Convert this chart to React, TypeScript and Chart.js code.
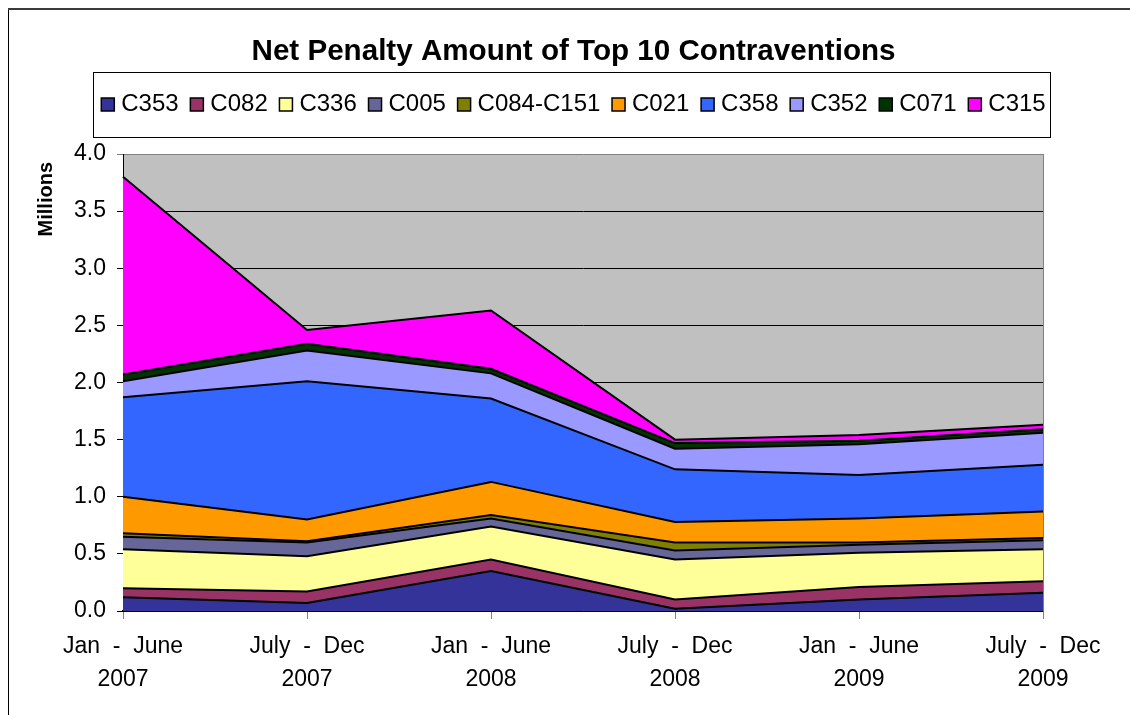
import React, { useEffect, useRef } from 'react';
import { Chart, registerables } from 'chart.js';

Chart.register(...registerables);

const FONT = '"Liberation Sans", Arial, Helvetica, sans-serif';
const TITLE = 'Net Penalty Amount of Top 10 Contraventions';
const Y_TITLE = 'Millions';

// Period labels (two lines each)
const categories: string[][] = [
  ['Jan  -  June', '2007'],
  ['July  -  Dec', '2007'],
  ['Jan  -  June', '2008'],
  ['July  -  Dec', '2008'],
  ['Jan  -  June', '2009'],
  ['July  -  Dec', '2009'],
];

const seriesNames = ['C353', 'C082', 'C336', 'C005', 'C084-C151', 'C021', 'C358', 'C352', 'C071', 'C315'];
const seriesColors = ['#333399', '#993366', '#FFFF99', '#666699', '#808000', '#FF9900', '#3366FF', '#9999FF', '#003300', '#FF00FF'];

// Net penalty amount (millions), per contravention
const C353 = [0.12, 0.07, 0.35, 0.02, 0.10, 0.16];
const C082 = [0.08, 0.10, 0.10, 0.08, 0.11, 0.10];
const C336 = [0.34, 0.31, 0.29, 0.35, 0.30, 0.28];
const C005 = [0.11, 0.12, 0.07, 0.08, 0.07, 0.08];
const C084_C151 = [0.03, 0.01, 0.03, 0.07, 0.02, 0.02];
const C021 = [0.32, 0.19, 0.29, 0.18, 0.21, 0.23];
const C358 = [0.87, 1.21, 0.73, 0.46, 0.38, 0.41];
const C352 = [0.14, 0.27, 0.22, 0.18, 0.27, 0.28];
const C071 = [0.06, 0.06, 0.04, 0.05, 0.03, 0.03];
const C315 = [1.73, 0.12, 0.51, 0.03, 0.05, 0.04];

const seriesValues = [C353, C082, C336, C005, C084_C151, C021, C358, C352, C071, C315];

const Y_MIN = 0;
const Y_MAX = 4;
const Y_STEP = 0.5;

const decorPlugin = {
  id: 'decor',
  beforeDraw(chart: any) {
    const { ctx, chartArea: a } = chart;
    ctx.save();
    ctx.fillStyle = '#FFFFFF';
    ctx.fillRect(0, 0, chart.width, chart.height);
    ctx.fillStyle = '#C0C0C0';
    ctx.fillRect(a.left, a.top, a.right - a.left, a.bottom - a.top);
    ctx.restore();
  },
  afterDraw(chart: any) {
    const ctx = chart.ctx;
    const a = chart.chartArea;
    ctx.save();
    // outer frame
    ctx.fillStyle = '#000';
    ctx.fillRect(0, 0, 1, chart.height);
    ctx.fillStyle = '#3a3a3a';
    ctx.fillRect(0, 0, chart.width, 2);
    // right plot edge
    ctx.strokeStyle = '#808080';
    ctx.lineWidth = 1;
    ctx.beginPath();
    ctx.moveTo(a.right + 0.5, a.top);
    ctx.lineTo(a.right + 0.5, a.bottom);
    ctx.stroke();

    // title
    ctx.fillStyle = '#000';
    ctx.font = 'bold 29.6px ' + FONT;
    ctx.textAlign = 'center';
    ctx.textBaseline = 'alphabetic';
    ctx.fillText(TITLE, 565.5, 52);

    // legend box
    ctx.strokeStyle = '#000';
    ctx.lineWidth = 1;
    ctx.strokeRect(85.5, 64.5, 957, 65);
    ctx.font = '24px ' + FONT;
    const items = chart.data.datasets.map((d: any) => ({
      text: d.label,
      color: d.backgroundColor,
      w: ctx.measureText(d.label).width,
    }));
    const sw = 13, gap = 7, itemGap = 11.7;
    const total = items.reduce((s: number, it: any) => s + sw + gap + it.w, 0) + itemGap * (items.length - 1);
    let x = 565.5 - total / 2;
    ctx.textAlign = 'left';
    items.forEach((it: any) => {
      ctx.fillStyle = it.color;
      ctx.fillRect(x, 90, sw, sw);
      ctx.strokeStyle = '#000';
      ctx.lineWidth = 1.5;
      ctx.strokeRect(x, 90, sw, sw);
      ctx.fillStyle = '#000';
      ctx.fillText(it.text, x + sw + gap, 103);
      x += sw + gap + it.w + itemGap;
    });

    // y axis title
    ctx.save();
    ctx.translate(38.5, 154);
    ctx.rotate(-Math.PI / 2);
    ctx.font = 'bold 20px ' + FONT;
    ctx.textAlign = 'right';
    ctx.textBaseline = 'middle';
    ctx.fillStyle = '#000';
    ctx.fillText(Y_TITLE, 0, 0);
    ctx.restore();

    ctx.restore();
  },
};

export default function App() {
  const canvasRef = useRef<HTMLCanvasElement | null>(null);

  useEffect(() => {
    if (!canvasRef.current) return;
    Chart.defaults.font.family = FONT;
    const datasets = seriesNames.map((name, i) => ({
      label: name,
      data: seriesValues[i],
      backgroundColor: seriesColors[i],
      borderColor: '#000000',
      borderWidth: 2,
      fill: i === 0 ? 'origin' : '-1',
      pointRadius: 0,
      tension: 0,
    }));
    const chart = new Chart(canvasRef.current, {
      type: 'line',
      data: { labels: categories, datasets },
      plugins: [decorPlugin],
      options: {
        animation: false,
        responsive: true,
        maintainAspectRatio: false,
        layout: { padding: { top: 146, right: 87, bottom: 14, left: 0 } },
        plugins: {
          legend: { display: false },
          title: { display: false },
          tooltip: { enabled: false },
        },
        scales: {
          x: {
            offset: false,
            grid: { drawOnChartArea: false, tickLength: 8, color: '#808080' },
            border: { color: '#000', width: 1.5 },
            ticks: {
              color: '#000',
              font: { size: 23, lineHeight: 1.4 },
              padding: 12,
              maxRotation: 0,
              autoSkip: false,
            },
            afterFit: (s: any) => {
              s.height = 90;
              s.paddingLeft = 0;
              s.paddingRight = 0;
            },
          },
          y: {
            stacked: true,
            min: Y_MIN,
            max: Y_MAX,
            ticks: {
              stepSize: Y_STEP,
              color: '#000',
              font: { size: 23 },
              padding: 11,
              callback: (v: any) => Number(v).toFixed(1),
            },
            grid: {
              color: (c: any) => (c.tick && c.tick.value === Y_MAX ? '#808080' : '#000'),
              tickLength: 6,
              lineWidth: 1,
            },
            border: { color: '#000', width: 1 },
            afterFit: (s: any) => {
              s.width = 115;
              s.paddingTop = 0;
              s.paddingBottom = 0;
            },
          },
        },
      },
    });
    return () => chart.destroy();
  }, []);

  return (
    <div style={{ position: 'fixed', left: 8, top: 8, width: 1122, height: 707 }}>
      <canvas ref={canvasRef} />
    </div>
  );
}
